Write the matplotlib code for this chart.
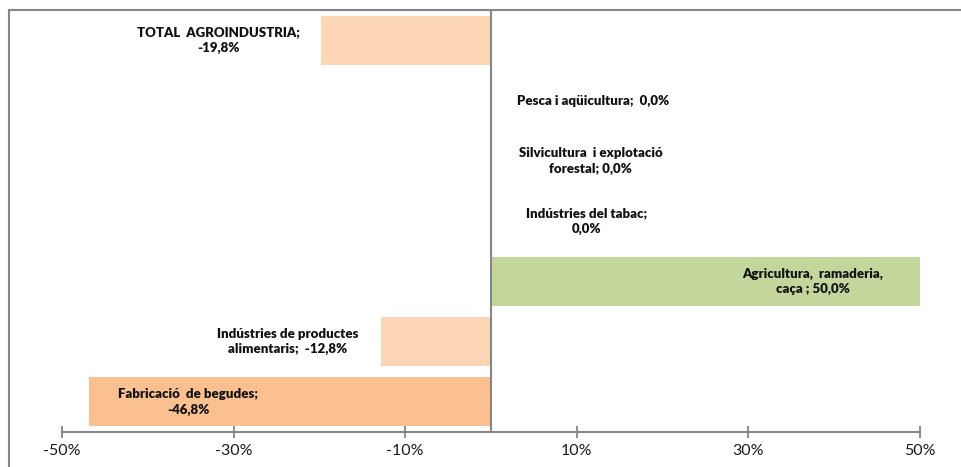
import matplotlib
matplotlib.use("Agg")
import matplotlib.pyplot as plt
from matplotlib.lines import Line2D

# ---- data (bottom to top) ----
categories = [
    "Fabricació  de begudes;",
    "Indústries de productes\nalimentaris; ",
    "Agricultura,  ramaderia,\ncaça ;",
    "Indústries del tabac;\n",
    "Silvicultura  i explotació\nforestal;",
    "Pesca i aqüicultura; ",
    "TOTAL  AGROINDUSTRIA;\n",
]
values = [-46.8, -12.8, 50.0, 0.0, 0.0, 0.0, -19.8]
xticks = [-50, -30, -10, 10, 30, 50]
xtick_labels = ["-50%", "-30%", "-10%", "10%", "30%", "50%"]

# ---- styling ----
bar_colors = ["#FAC090", "#FCD5B5", "#C3D69B", "#FCD5B5", "#FCD5B5", "#FCD5B5", "#FCD5B5"]
label_sep = ["\n", "", " ", " ", " ", " ", ""]
label_x = [-35.3, -23.7, 37.5, 11.1, 11.6, 11.9, -31.8]
grey = "#868686"

plt.rcParams['font.family'] = ['Lato', 'DejaVu Sans']

fig = plt.figure(figsize=(9.62, 4.67), dpi=100)
ax = fig.add_axes([62/962, 1 - 432/467, 858/962, (432 - 10)/467])

ypos = list(range(len(categories)))
ax.barh(ypos, values, height=0.81, color=bar_colors, zorder=2)

for y, cat, v, sep, lx in zip(ypos, categories, values, label_sep, label_x):
    val = f"{v:.1f}%".replace(".", ",")
    if sep == "\n":
        txt = cat + "\n" + val
    else:
        txt = cat + sep + val if not cat.endswith("\n") else cat + val
    if cat.endswith(" ") and sep == "":
        txt = cat + " " + val
    ax.text(lx, y, txt, ha="center", va="center", fontsize=9.5,
            fontweight="heavy", color="#111111", linespacing=1.35, zorder=3)

ax.set_xlim(-50, 50)
ax.set_ylim(-0.5, 6.5)
ax.axvline(0, color=grey, lw=1.5, zorder=4)

for s in ["top", "right", "left"]:
    ax.spines[s].set_visible(False)
ax.spines["bottom"].set_color(grey)
ax.spines["bottom"].set_linewidth(1.5)
ax.set_yticks([])
ax.set_xticks(xticks)
ax.set_xticklabels(xtick_labels, fontsize=11.5, color="#1a1a1a")
ax.tick_params(axis="x", direction="inout", length=9, width=1.3, color=grey, pad=4)

# outer chart border (top and left visible)
fig.add_artist(Line2D([9/962, 1.0], [1 - 10/467, 1 - 10/467], transform=fig.transFigure,
                      color=grey, lw=1.5))
fig.add_artist(Line2D([9/962, 9/962], [0, 1 - 10/467], transform=fig.transFigure,
                      color=grey, lw=1.5))

fig.savefig("out.png", dpi=100, facecolor="white")
